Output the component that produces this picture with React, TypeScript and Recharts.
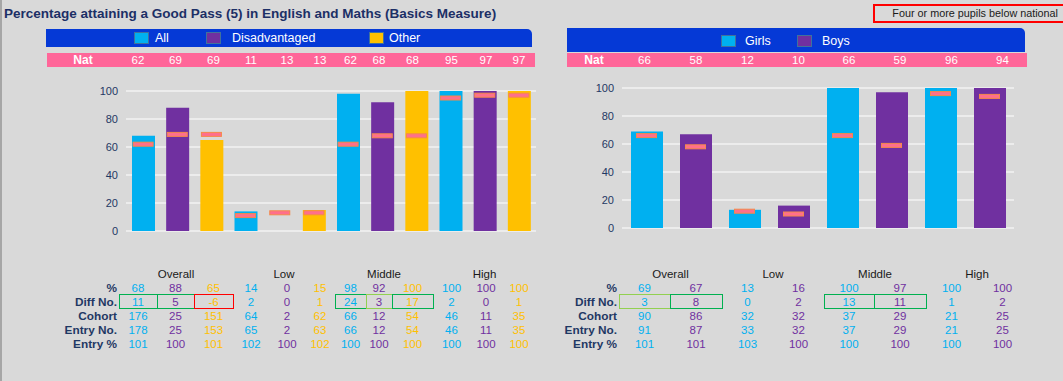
import React from 'react';
import { ComposedChart, Bar, Scatter, Cell, XAxis, YAxis, CartesianGrid } from 'recharts';

// left panel: All / Disadvantaged / Other across prior attainment bands
const leftSeries = ['All', 'Disadvantaged', 'Other'];
const leftGroups = ['Overall', 'Low', 'Middle', 'High'];
const leftPct = [68, 88, 65, 14, 0, 15, 98, 92, 100, 100, 100, 100];
const leftNat = [62, 69, 69, 11, 13, 13, 62, 68, 68, 95, 97, 97];
const leftDiff = [11, 5, -6, 2, 0, 1, 24, 3, 17, 2, 0, 1];
const leftCohort = [176, 25, 151, 64, 2, 62, 66, 12, 54, 46, 11, 35];
const leftEntryNo = [178, 25, 153, 65, 2, 63, 66, 12, 54, 46, 11, 35];
const leftEntryPct = [101, 100, 101, 102, 100, 102, 100, 100, 100, 100, 100, 100];
const leftDiffFlag = ['above', 'above', 'below', '', '', '', 'above', 'near', 'above', '', '', ''];

// right panel: Girls / Boys
const rightSeries = ['Girls', 'Boys'];
const rightGroups = ['Overall', 'Low', 'Middle', 'High'];
const rightPct = [69, 67, 13, 16, 100, 97, 100, 100];
const rightNat = [66, 58, 12, 10, 66, 59, 96, 94];
const rightDiff = [3, 8, 0, 2, 13, 11, 1, 2];
const rightCohort = [90, 86, 32, 32, 37, 29, 21, 25];
const rightEntryNo = [91, 87, 33, 32, 37, 29, 21, 25];
const rightEntryPct = [101, 101, 103, 100, 100, 100, 100, 100];
const rightDiffFlag = ['near', 'above', '', '', 'above', 'above', '', ''];

const rowLabels = ['%', 'Diff No.', 'Cohort', 'Entry No.', 'Entry %'];
const yTicks = [0, 20, 40, 60, 80, 100];

const seriesColors = ['#00b0f0', '#7030a0', '#ffc000'];
const flagColors: Record<string, string> = { above: '#00b050', near: '#92d050', below: '#ff0000' };

const FONT = '"Liberation Sans", Arial, sans-serif';
const NAVY = '#1f3864';

const NatMarker = (props: any) => {
  const { cx, cy } = props;
  if (cx == null || cy == null) return null;
  return <rect x={cx - 10} y={cy - 2} width={20} height={4} fill="#ff6f8c" stroke="#f4894a" strokeWidth={1} />;
};

interface PanelProps {
  series: string[];
  groups: string[];
  pct: number[];
  nat: number[];
  diff: number[];
  cohort: number[];
  entryNo: number[];
  entryPct: number[];
  flags: string[];
  lay: any;
}

const Panel: React.FC<PanelProps> = ({ series, groups, pct, nat, diff, cohort, entryNo, entryPct, flags, lay }) => {
  const n = series.length;
  const data = pct.map((v, i) => ({
    key: groups[Math.floor(i / n)] + ' ' + series[i % n],
    pct: v,
    nat: nat[i],
  }));
  const edges: number[] = lay.colEdges;
  const rows = [pct, diff, cohort, entryNo, entryPct];
  const rowY = [288, 302, 316, 330, 344];

  return (
    <>
      {/* legend bar */}
      <div
        style={{
          position: 'absolute', left: lay.legend.x, top: lay.legend.y, width: lay.legend.w, height: lay.legend.h,
          background: '#0539d6', borderTopRightRadius: 5,
        }}
      />
      {series.map((s, i) => (
        <React.Fragment key={s}>
          <div
            style={{
              position: 'absolute', left: lay.swatchX[i], top: lay.swatchY, width: 15, height: 12,
              background: seriesColors[i], border: '1px solid #41719c', boxSizing: 'border-box',
            }}
          />
          <div
            style={{
              position: 'absolute', left: lay.textX[i], top: lay.swatchY - 2, lineHeight: '16px',
              fontSize: 12.5, color: '#fff', fontFamily: FONT,
            }}
          >
            {s}
          </div>
        </React.Fragment>
      ))}

      {/* national row */}
      <div
        style={{
          position: 'absolute', left: lay.nat.x, top: lay.nat.y, width: lay.nat.w, height: lay.nat.h,
          background: '#ff6699',
        }}
      />
      <div
        style={{
          position: 'absolute', left: lay.natLabelX - 20, width: 40, top: lay.nat.y, lineHeight: '14px',
          textAlign: 'center', fontSize: 12, fontWeight: 'bold', color: '#fff', fontFamily: FONT,
        }}
      >
        Nat
      </div>
      {nat.map((v, i) => (
        <div
          key={'n' + i}
          style={{
            position: 'absolute', left: edges[i], width: edges[i + 1] - edges[i], top: lay.nat.y, lineHeight: '14px',
            textAlign: 'center', fontSize: 11.5, color: '#fff', fontFamily: FONT,
          }}
        >
          {v}
        </div>
      ))}

      {/* chart */}
      <div style={{ position: 'absolute', left: lay.chart.x, top: lay.chart.y }}>
        <ComposedChart
          width={lay.chart.w}
          height={lay.chart.h}
          data={data}
          margin={{ top: 11, right: 14, bottom: 15, left: 0 }}
        >
          <CartesianGrid vertical={false} stroke="#ffffff" strokeWidth={1.2} />
          <XAxis dataKey="key" type="category" hide />
          <YAxis
            domain={[0, 100]}
            ticks={yTicks}
            interval={0}
            width={lay.chart.yw}
            axisLine={false}
            tickLine={false}
            tick={{ fill: NAVY, fontSize: 11, fontFamily: FONT }}
          />
          <Bar dataKey="pct" barSize={lay.chart.barSize} isAnimationActive={false}>
            {data.map((d, i) => (
              <Cell key={d.key} fill={seriesColors[i % n]} />
            ))}
          </Bar>
          <Scatter dataKey="nat" shape={NatMarker} isAnimationActive={false} />
        </ComposedChart>
      </div>

      {/* table */}
      {groups.map((g, gi) => (
        <div
          key={g}
          style={{
            position: 'absolute', left: edges[gi * n], width: edges[gi * n + n] - edges[gi * n], top: 267,
            lineHeight: '14px', textAlign: 'center', fontSize: 11.5, color: '#1a1a1a', fontFamily: FONT,
          }}
        >
          {g}
        </div>
      ))}
      {rowLabels.map((r, ri) => (
        <div
          key={r}
          style={{
            position: 'absolute', left: lay.rowLabelRight - 80, width: 80, top: rowY[ri] - 7, lineHeight: '14px',
            textAlign: 'right', fontSize: 11.8, fontWeight: 'bold', color: NAVY, fontFamily: FONT,
          }}
        >
          {r}
        </div>
      ))}
      {rows.map((row, ri) =>
        row.map((v, i) => (
          <div
            key={ri + '-' + i}
            style={{
              position: 'absolute', left: edges[i], width: edges[i + 1] - edges[i], top: rowY[ri] - 7,
              lineHeight: '14px', textAlign: 'center', fontSize: 11.5, color: seriesColors[i % n], fontFamily: FONT,
            }}
          >
            {v}
          </div>
        ))
      )}
      {flags.map((f, i) =>
        f ? (
          <div
            key={'f' + i}
            style={{
              position: 'absolute', left: edges[i], width: edges[i + 1] - edges[i] + 1, top: 294, height: 15,
              border: '1.5px solid ' + flagColors[f], boxSizing: 'border-box',
            }}
          />
        ) : null
      )}
    </>
  );
};

const leftLayout = {
  legend: { x: 46, y: 29, w: 486, h: 18 },
  swatchX: [134, 206, 369],
  textX: [155, 232, 389],
  swatchY: 32,
  nat: { x: 47, y: 53, w: 488, h: 14 },
  natLabelX: 83,
  chart: { x: 60, y: 80, w: 490, h: 166, yw: 66, barSize: 23 },
  colEdges: [119, 157, 194, 233, 269, 305, 335, 366, 392, 433, 470, 502, 536],
  rowLabelRight: 117,
};

const rightLayout = {
  legend: { x: 567, y: 28, w: 458, h: 24 },
  swatchX: [721, 797],
  textX: [745, 822],
  swatchY: 35,
  nat: { x: 567, y: 53, w: 460, h: 14 },
  natLabelX: 594,
  chart: { x: 560, y: 77, w: 468, h: 166, yw: 62, barSize: 32 },
  colEdges: [619, 670, 722, 773, 824, 874, 926, 977, 1028],
  rowLabelRight: 617,
};

export default function App() {
  return (
    <div
      style={{
        position: 'absolute', left: 0, top: 0, width: 1063, height: 381, overflow: 'hidden',
        background: '#d9d9d9', fontFamily: FONT,
      }}
    >
      <div style={{ position: 'absolute', left: 0, top: 0, width: 2, height: 381, background: '#a6a6a6' }} />
      <div
        style={{
          position: 'absolute', left: 4, top: 6, lineHeight: '16px', fontSize: 13.5, fontWeight: 'bold',
          color: '#1c2f66', whiteSpace: 'nowrap',
        }}
      >
        Percentage attaining a Good Pass (5) in English and Maths (Basics Measure)
      </div>
      <div
        style={{
          position: 'absolute', left: 873, top: 4, width: 200, height: 19, border: '2px solid #ff0000',
          boxSizing: 'border-box',
        }}
      />
      <div
        style={{
          position: 'absolute', right: 5, top: 6, lineHeight: '14px', fontSize: 10.8, color: '#1a1a1a',
          whiteSpace: 'nowrap',
        }}
      >
        Four or more pupils below national
      </div>

      <Panel
        series={leftSeries}
        groups={leftGroups}
        pct={leftPct}
        nat={leftNat}
        diff={leftDiff}
        cohort={leftCohort}
        entryNo={leftEntryNo}
        entryPct={leftEntryPct}
        flags={leftDiffFlag}
        lay={leftLayout}
      />
      <Panel
        series={rightSeries}
        groups={rightGroups}
        pct={rightPct}
        nat={rightNat}
        diff={rightDiff}
        cohort={rightCohort}
        entryNo={rightEntryNo}
        entryPct={rightEntryPct}
        flags={rightDiffFlag}
        lay={rightLayout}
      />
    </div>
  );
}
